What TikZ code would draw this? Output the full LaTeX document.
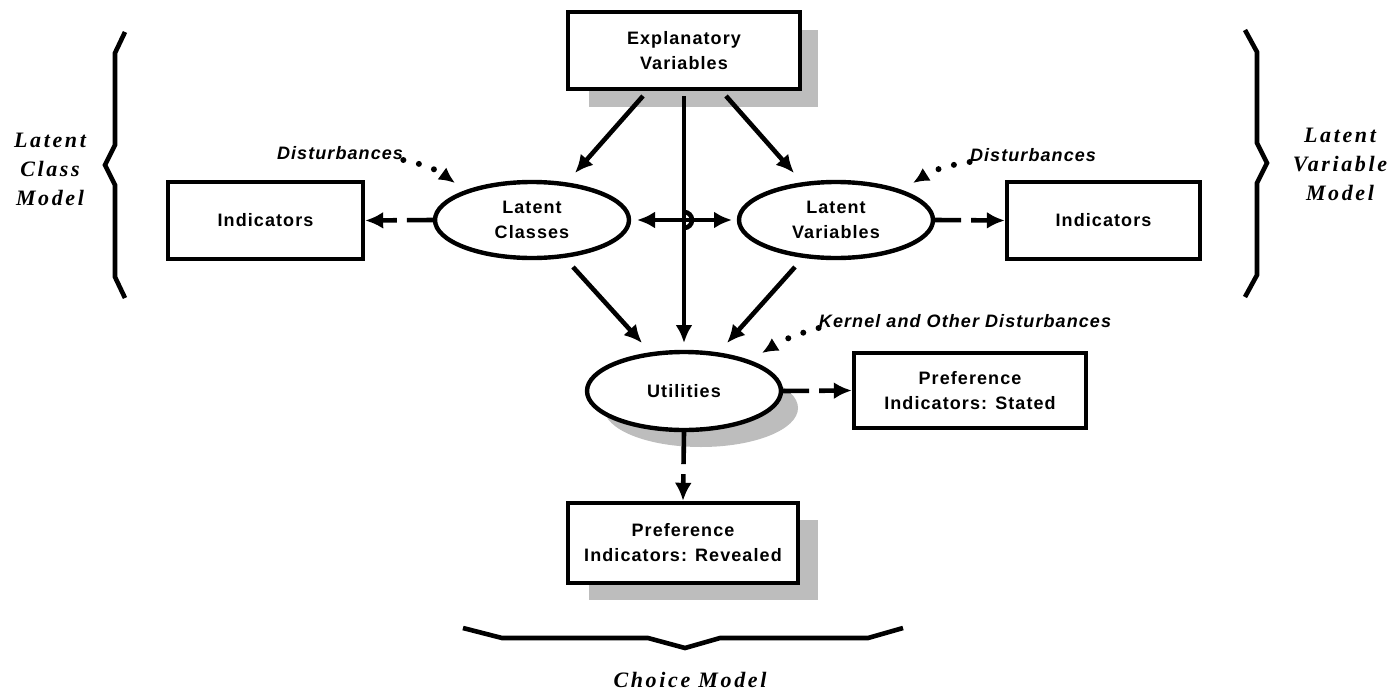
\documentclass[tikz,border=0pt]{standalone}
\usepackage{fontspec}
\usetikzlibrary{shapes.geometric,arrows.meta}
\newfontfamily\lblfont{Liberation Sans}[LetterSpace=6]
\newfontfamily\modelfont{Liberation Serif}[LetterSpace=12]
\definecolor{shadowgray}{HTML}{BDBDBD}
\begin{document}
\begin{tikzpicture}[x=0.5pt,y=-0.5pt,
  lbl/.style={font=\lblfont\bfseries\fontsize{9}{12.5}\selectfont, align=center},
  dlbl/.style={font=\lblfont\bfseries\itshape\fontsize{9}{12.5}\selectfont, inner sep=0pt},
  mlbl/.style={font=\modelfont\bfseries\itshape\fontsize{11}{14.5}\selectfont, align=center, inner sep=0pt},
  box/.style={lbl, draw, line width=2.2pt, rectangle, fill=white, inner sep=0pt},
  oval/.style={lbl, draw, line width=2.2pt, ellipse, fill=white, inner sep=0pt, minimum width=97pt, minimum height=38pt},
  arr/.style={line width=2.3pt, -{Latex[length=9pt,width=8.5pt]}},
  darr/.style={line width=2.3pt, {Latex[length=9pt,width=8.5pt]}-{Latex[length=9pt,width=8.5pt]}},
  dasharr/.style={line width=2.3pt, dash pattern=on 13pt off 5pt, -{Latex[length=9pt,width=8.5pt]}},
  dotarr/.style={line width=3pt, line cap=round, dash pattern=on 0pt off 8pt, -{Latex[length=8pt,width=7.5pt]}},
  brace/.style={line width=2.3pt, line join=miter}
]
\useasboundingbox (0,0) rectangle (1388,691);

% shadows
\fill[shadowgray] (589,30) rectangle (818,107);
\fill[shadowgray] (589,520) rectangle (818,600);
\fill[shadowgray] (701,408) ellipse[x radius=97, y radius=39];

% nodes
\node[box, minimum width=116pt, minimum height=38.5pt] (ev) at (684,50.5) {Explanatory\\Variables};
\node[oval] (lc) at (532,220) {Latent\\Classes};
\node[oval] (lv) at (836,220) {Latent\\Variables};
\node[box, minimum width=97.5pt, minimum height=38.5pt] (indl) at (265.5,220.5) {Indicators};
\node[box, minimum width=96.5pt, minimum height=38.5pt] (indr) at (1103.5,220.5) {Indicators};
\node[oval, minimum height=39pt] (ut) at (684,391) {Utilities};
\node[box, minimum width=116pt, minimum height=37.5pt] (st) at (970,390.5) {Preference\\Indicators: Stated};
\node[box, minimum width=115pt, minimum height=40pt] (rv) at (683,543) {Preference\\Indicators: Revealed};

\node[dlbl] (dl) at (340,153) {Disturbances};
\node[dlbl] (dr) at (1033,155) {Disturbances};
\node[dlbl] (dk) at (965,321) {Kernel and Other Disturbances};

\node[mlbl] (lcm) at (50,169) {Latent\\Class\\Model};
\node[mlbl] (lvm) at (1340,164) {Latent\\Variable\\Model};
\node[mlbl] (cm) at (690,680) {Choice Model};

% connector end points
\coordinate (evl) at (643,96);
\coordinate (evm) at (684,96);
\coordinate (evr) at (726,96);
\coordinate (lct) at (575,173);
\coordinate (lvt) at (794,173);
\coordinate (lcb) at (573,267);
\coordinate (lvb) at (795,267);
\coordinate (utl) at (642,343);
\coordinate (utm) at (684,343);
\coordinate (utr) at (727,343);
\coordinate (lcr) at (637,220);
\coordinate (lvl) at (732,220);

% solid arrows
\draw[arr] (evl) -- (lct);
\draw[arr] (evr) -- (lvt);
\draw[arr] (evm) -- (utm);
\draw[arr] (lcb) -- (utl);
\draw[arr] (lvb) -- (utr);
\draw[darr] (lcr) -- (lvl);
\draw[line width=2.3pt] (684,212) arc[start angle=-90, end angle=90, radius=8];

% dashed arrows
\draw[dasharr] (lc.west) -- (indl.east);
\draw[dasharr] (lv.east) -- (indr.east -| indr.west);
\draw[dasharr] (ut.east) -- (st.west);
\draw[line width=2.3pt, dash pattern=on 16pt off 5pt, -{Latex[length=9pt,width=8.5pt]}] (ut.south) -- (rv.north);

% dotted arrows
\draw[dotarr] (dl.south east) to[bend left=12] (455,183);
\draw[dotarr] (dr.south west) to[bend right=12] (913,183);
\draw[dotarr] (dk.south west) to[bend right=8] (762,353);

% braces
\draw[brace] (125,32) -- (115,53) -- (115,145) -- (105,165) -- (115,185) -- (115,277) -- (125,298);
\draw[brace] (1245,30) -- (1257,52) -- (1257,143) -- (1267,163) -- (1257,183) -- (1257,275) -- (1245,297);
\draw[brace] (463,628) -- (502,638) -- (648,638) -- (685,648) -- (720,638) -- (868,638) -- (903,628);
\end{tikzpicture}
\end{document}
